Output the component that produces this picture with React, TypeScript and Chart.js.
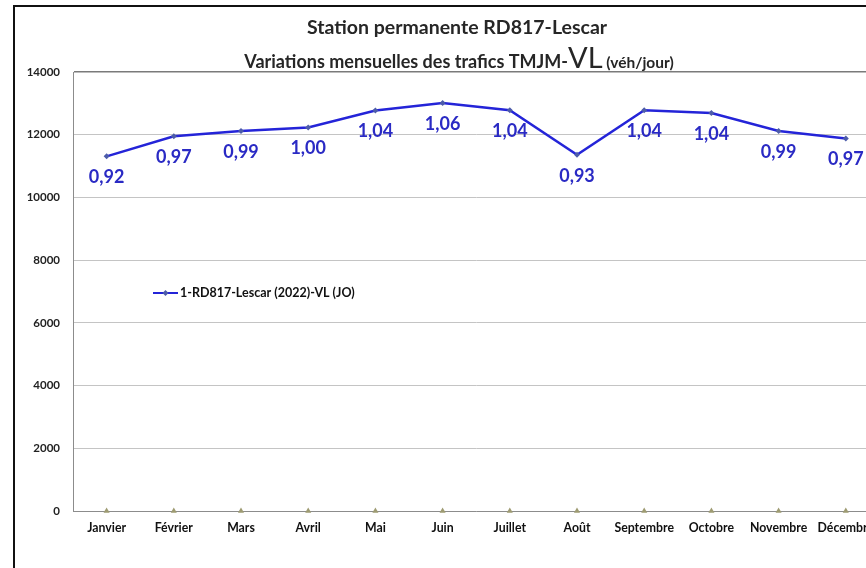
import React, { useEffect, useRef } from "react";
import { Chart, registerables } from "chart.js";

Chart.register(...registerables);

const months = ["Janvier", "Février", "Mars", "Avril", "Mai", "Juin", "Juillet", "Août", "Septembre", "Octobre", "Novembre", "Décembre"];
const tmjmVL = [11310, 11950, 12120, 12230, 12770, 13010, 12780, 11360, 12780, 12690, 12120, 11880];
const ratioLabels = ["0,92", "0,97", "0,99", "1,00", "1,04", "1,06", "1,04", "0,93", "1,04", "1,04", "0,99", "0,97"];
const baseSeries = [0, 0, 0, 0, 0, 0, 0, 0, 0, 0, 0, 0];
const yMin = 0;
const yMax = 14000;
const yStep = 2000;
const seriesLabel = "1-RD817-Lescar (2022)-VL (JO)";
const title1 = "Station permanente RD817-Lescar";
const title2Parts = ["Variations mensuelles des trafics TMJM-", "VL", " (véh/jour)"];

const FONT = "Lato, 'Open Sans', sans-serif";
const LINE_BLUE = "#2424d8";
const LABEL_BLUE = "#2a2ac4";
const MARKER_BLUE = "#4d5caa";

const titlePlugin = {
  id: "customTitles",
  afterDraw(chart: any) {
    const ctx = chart.ctx as CanvasRenderingContext2D;
    ctx.save();
    ctx.fillStyle = "#262626";
    ctx.textBaseline = "alphabetic";
    ctx.textAlign = "center";
    ctx.font = `bold 19.5px ${FONT}`;
    ctx.fillText(title1, 457, 34);
    const fonts = [`bold 18px ${FONT}`, `29px ${FONT}`, `bold 15.5px ${FONT}`];
    let total = 0;
    const widths = title2Parts.map((t, i) => {
      ctx.font = fonts[i];
      const w = ctx.measureText(t).width;
      total += w;
      return w;
    });
    let x = 459 - total / 2;
    ctx.textAlign = "left";
    title2Parts.forEach((t, i) => {
      ctx.font = fonts[i];
      ctx.fillText(t, x, 68);
      x += widths[i];
    });
    ctx.restore();
  },
};

const labelPlugin = {
  id: "ratioLabels",
  afterDatasetsDraw(chart: any) {
    const ctx = chart.ctx as CanvasRenderingContext2D;
    const meta = chart.getDatasetMeta(0);
    ctx.save();
    ctx.fillStyle = LABEL_BLUE;
    ctx.font = `bold 18px ${FONT}`;
    ctx.textAlign = "center";
    ctx.textBaseline = "middle";
    meta.data.forEach((pt: any, i: number) => {
      ctx.fillText(ratioLabels[i], pt.x, pt.y + 21);
    });
    ctx.restore();
  },
};

const legendPlugin = {
  id: "innerLegend",
  afterDraw(chart: any) {
    const ctx = chart.ctx as CanvasRenderingContext2D;
    const area = chart.chartArea;
    const x0 = area.left + 80;
    const y0 = area.top + 221;
    ctx.save();
    ctx.strokeStyle = LINE_BLUE;
    ctx.lineWidth = 2;
    ctx.beginPath();
    ctx.moveTo(x0, y0);
    ctx.lineTo(x0 + 25, y0);
    ctx.stroke();
    ctx.fillStyle = MARKER_BLUE;
    ctx.beginPath();
    const cx = x0 + 12.5;
    ctx.moveTo(cx, y0 - 3);
    ctx.lineTo(cx + 3, y0);
    ctx.lineTo(cx, y0 + 3);
    ctx.lineTo(cx - 3, y0);
    ctx.closePath();
    ctx.fill();
    ctx.fillStyle = "#111";
    ctx.font = `bold 12.5px ${FONT}`;
    ctx.textAlign = "left";
    ctx.textBaseline = "middle";
    ctx.fillText(chart.data.datasets[0].label, x0 + 27, y0);
    ctx.restore();
  },
};

export default function App() {
  const ref = useRef<HTMLCanvasElement>(null);

  useEffect(() => {
    if (!ref.current) return;
    const chart = new Chart(ref.current, {
      type: "line",
      data: {
        labels: months,
        datasets: [
          {
            label: seriesLabel,
            data: tmjmVL,
            borderColor: LINE_BLUE,
            backgroundColor: MARKER_BLUE,
            borderWidth: 2.5,
            pointStyle: "rectRot",
            pointRadius: 3,
            pointBackgroundColor: MARKER_BLUE,
            pointBorderColor: MARKER_BLUE,
            pointBorderWidth: 0,
            tension: 0,
          },
          {
            label: "base",
            data: baseSeries,
            showLine: false,
            pointStyle: "triangle",
            pointRadius: 3.5,
            pointBackgroundColor: "#9e9b72",
            pointBorderColor: "#9e9b72",
            pointBorderWidth: 0,
            clip: false as any,
          },
        ],
      },
      options: {
        animation: false,
        responsive: true,
        maintainAspectRatio: false,
        layout: { padding: { left: 0, top: 72, right: 10.6, bottom: 0 } },
        plugins: {
          legend: { display: false },
          title: { display: false },
          tooltip: { enabled: false },
        },
        scales: {
          x: {
            offset: true,
            grid: { display: false, drawTicks: false, offset: true },
            border: { display: true, color: "#8c8c8c", width: 1 },
            ticks: {
              color: "#111",
              font: { family: FONT, size: 12.3, weight: "bold" },
              padding: 10,
              maxRotation: 0,
              autoSkip: false,
            },
            afterFit: (scale: any) => {
              scale.height = 57;
            },
          },
          y: {
            min: yMin,
            max: yMax,
            ticks: {
              stepSize: yStep,
              color: "#222",
              font: { family: FONT, size: 11.5, weight: "bold" },
              padding: 13,
              callback: (v: any) => String(v),
            },
            grid: {
              drawTicks: false,
              color: (c: any) => (c.tick && c.tick.value === yMax ? "#7a7a7a" : "#c4c4c4"),
              lineWidth: (c: any) => (c.tick && c.tick.value === yMax ? 1.5 : 1),
            },
            border: { display: true, color: "#8c8c8c", width: 1 },
            afterFit: (scale: any) => {
              scale.width = 73;
            },
          },
        },
      },
      plugins: [titlePlugin, labelPlugin, legendPlugin],
    });
    return () => chart.destroy();
  }, []);

  return (
    <div style={{ position: "fixed", left: 0, top: 0, width: 866, height: 568, overflow: "hidden", background: "#fff" }}>
      <div
        style={{
          position: "absolute",
          left: 13,
          top: 5,
          width: 1000,
          height: 1000,
          border: "2px solid #111",
          boxSizing: "border-box",
        }}
      />
      <div style={{ position: "absolute", left: 0, top: 0, width: 890, height: 568 }}>
        <canvas ref={ref} />
      </div>
    </div>
  );
}
